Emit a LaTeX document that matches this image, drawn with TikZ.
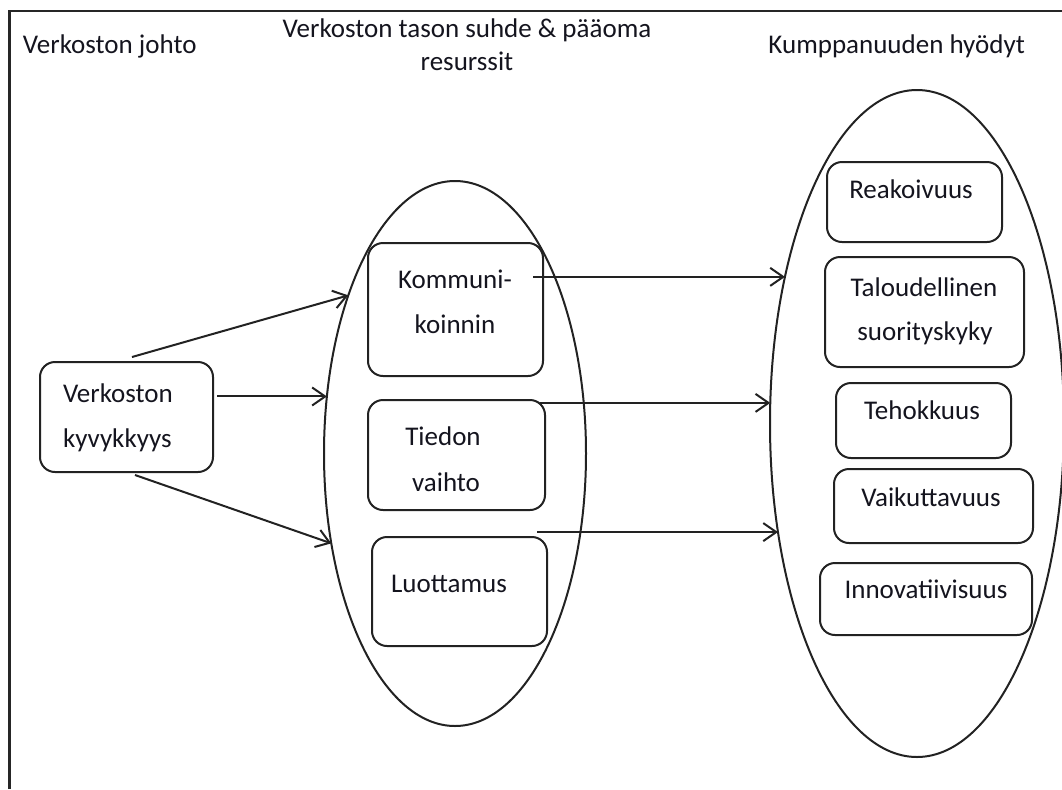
\documentclass[tikz,border=0pt]{standalone}
\usepackage{fontspec}
\setmainfont{Carlito}
\usetikzlibrary{arrows.meta,calc,shapes.geometric}

\definecolor{ink}{HTML}{14141E}
\definecolor{stroke}{HTML}{222222}

\tikzset{
  lbl/.style={inner sep=0pt, outer sep=0pt, text=ink, font=\fontsize{13.5}{16}\selectfont},
  rbox/.style={draw=stroke, line width=1pt, rounded corners=7.5pt, inner sep=0pt, outer sep=0pt},
  oval/.style={draw=stroke, line width=1pt, ellipse, inner sep=0pt, outer sep=0pt},
  arr/.style={draw=stroke, line width=1pt, -{Straight Barb[length=6.5pt,width=9pt,line width=1pt]}},
  frameline/.style={draw=black!85, line width=1.1pt}
}

\begin{document}
\begin{tikzpicture}[x=0.5pt,y=-0.5pt]
\useasboundingbox (0,0) rectangle (1062,789);

% outer frame (left and top edges)
\draw[frameline] (9.5,789) -- (9.5,11) -- (1062,11);

% column headings
\node[lbl, anchor=base west] (h1) at (23,53) {Verkoston johto};
\node[lbl, anchor=base] (h2a) at (467,37) {Verkoston tason suhde \& pääoma};
\node[lbl, anchor=base] (h2b) at (467,70) {resurssit};
\node[lbl, anchor=base east] (h3) at (1025,53) {Kumppanuuden hyödyt};

% grouping ellipses
\node[oval, minimum width=131pt, minimum height=272.5pt] (ellL) at (455,453.5) {};
\node[oval, minimum width=147pt, minimum height=333.5pt] (ellR) at (917,423.5) {};

% source box
\node[rbox, minimum width=86.5pt, minimum height=55pt] (kyv) at (126.5,417) {};
\node[lbl, anchor=base west] (kyv1) at (63,402) {Verkoston};
\node[lbl, anchor=base west] (kyv2) at (63,447) {kyvykkyys};

% middle boxes
\node[rbox, minimum width=87.5pt, minimum height=66.5pt] (kom) at (455.5,309.5) {};
\node[lbl, anchor=base] (kom1) at (455,288) {Kommuni-};
\node[lbl, anchor=base] (kom2) at (455,333) {koinnin};

\node[rbox, minimum width=88.5pt, minimum height=55pt] (tie) at (456.5,455) {};
\node[lbl, anchor=base] (tie1) at (443,445) {Tiedon};
\node[lbl, anchor=base] (tie2) at (446,491) {vaihto};

\node[rbox, minimum width=87.5pt, minimum height=54.5pt] (luo) at (459.5,591.5) {};
\node[lbl, anchor=base] (luo1) at (449,592) {Luottamus};

% outcome boxes
\node[rbox, minimum width=87.5pt, minimum height=40pt] (rea) at (914.5,202) {};
\node[lbl, anchor=base] (rea1) at (911,198) {Reakoivuus};

\node[rbox, minimum width=99.5pt, minimum height=55pt] (tal) at (924.5,312) {};
\node[lbl, anchor=base] (tal1) at (924,296) {Taloudellinen};
\node[lbl, anchor=base] (tal2) at (925,340) {suorityskyky};

\node[rbox, minimum width=87.5pt, minimum height=37.5pt] (teh) at (923.5,420.5) {};
\node[lbl, anchor=base] (teh1) at (922,419) {Tehokkuus};

\node[rbox, minimum width=99.5pt, minimum height=37pt] (vai) at (933.5,506) {};
\node[lbl, anchor=base] (vai1) at (931,506) {Vaikuttavuus};

\node[rbox, minimum width=106pt, minimum height=36pt] (inn) at (926,599) {};
\node[lbl, anchor=base] (inn1) at (926,598) {Innovatiivisuus};

% connectors: capability to relational resources
\draw[arr] ($(kyv.north)+(5.5,-5)$) -- (ellL.124.2);
\draw[arr] ($(kyv.east |- ellL.156.2)+(4,0)$) -- (ellL.156.2);
\draw[arr] ($(kyv.south)+(8.5,3)$) -- (ellL.216.2);

% connectors: relational resources to partnership benefits
\draw[arr] ($(kom.east |- ellR.132)+(-10,0)$) -- (ellR.132);
\draw[arr] ($(tie.east |- ellR.172.9)+(-5,0)$) -- (ellR.172.9);
\draw[arr] ($(luo.east |- ellR.218.2)+(-10,0)$) -- (ellR.218.2);
\end{tikzpicture}
\end{document}
